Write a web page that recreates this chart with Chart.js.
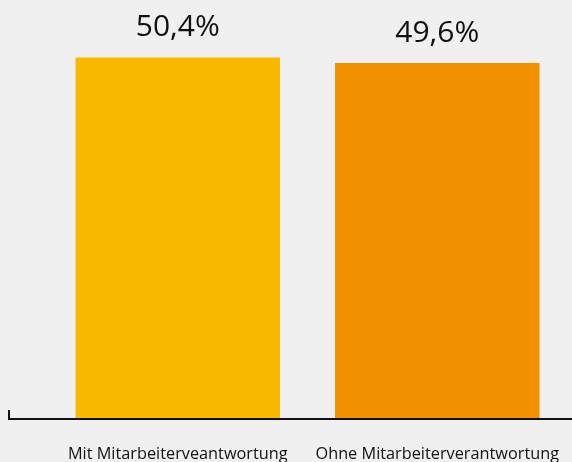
<!DOCTYPE html>
<html>
<head>
<meta charset="utf-8">
<script src="https://cdn.jsdelivr.net/npm/chart.js@4/dist/chart.umd.min.js"></script>
<style>
  html, body { margin: 0; padding: 0; background: #f0f0f0; }
  #wrap { width: 572px; height: 462px; }
</style>
</head>
<body>
<div id="wrap"><canvas id="myChart" width="572" height="462"></canvas></div>
<script>
// share of respondents, in percent
const categories = ["Mit Mitarbeiterveantwortung", "Ohne Mitarbeiterverantwortung"];
const shares = [50.4, 49.6];
const valueLabels = ["50,4%", "49,6%"];
const barColors = ["#f9b800", "#f29100"];

// baseline along the bottom with a short tick at its left end
const baseline = {
  id: "baseline",
  afterDatasetsDraw(chart) {
    const ctx = chart.ctx;
    const y = chart.scales.y.getPixelForValue(0) + 1;
    ctx.save();
    ctx.strokeStyle = "#111";
    ctx.lineWidth = 2;
    ctx.beginPath();
    ctx.moveTo(9, y - 9);
    ctx.lineTo(9, y);
    ctx.lineTo(chart.width, y);
    ctx.stroke();
    ctx.restore();
  }
};

// percentage text above each bar
const barValues = {
  id: "barValues",
  afterDatasetsDraw(chart) {
    const ctx = chart.ctx;
    const meta = chart.getDatasetMeta(0);
    ctx.save();
    ctx.fillStyle = "#111";
    ctx.font = "30px 'Open Sans'";
    ctx.textAlign = "center";
    ctx.textBaseline = "alphabetic";
    meta.data.forEach((bar, i) => {
      ctx.fillText(valueLabels[i], bar.x, bar.y - 21);
    });
    ctx.restore();
  }
};

new Chart(document.getElementById("myChart"), {
  type: "bar",
  data: {
    labels: categories,
    datasets: [{
      data: shares,
      backgroundColor: barColors,
      borderWidth: 0,
      categoryPercentage: 1,
      barPercentage: 0.788
    }]
  },
  options: {
    responsive: false,
    animation: false,
    layout: { padding: { left: 48, right: 5, top: 3, bottom: 0 } },
    plugins: { legend: { display: false }, tooltip: { enabled: false } },
    scales: {
      x: {
        grid: { display: false, drawTicks: false },
        border: { display: false },
        ticks: { color: "#111", font: { family: "Open Sans", size: 16.3 }, padding: 27, maxRotation: 0 },
        afterFit(scale) {
          scale.height = 44;
          scale.paddingLeft = 0;
          scale.paddingRight = 0;
        }
      },
      y: {
        display: false,
        min: 0,
        max: 58
      }
    }
  },
  plugins: [baseline, barValues]
});
</script>
</body>
</html>
